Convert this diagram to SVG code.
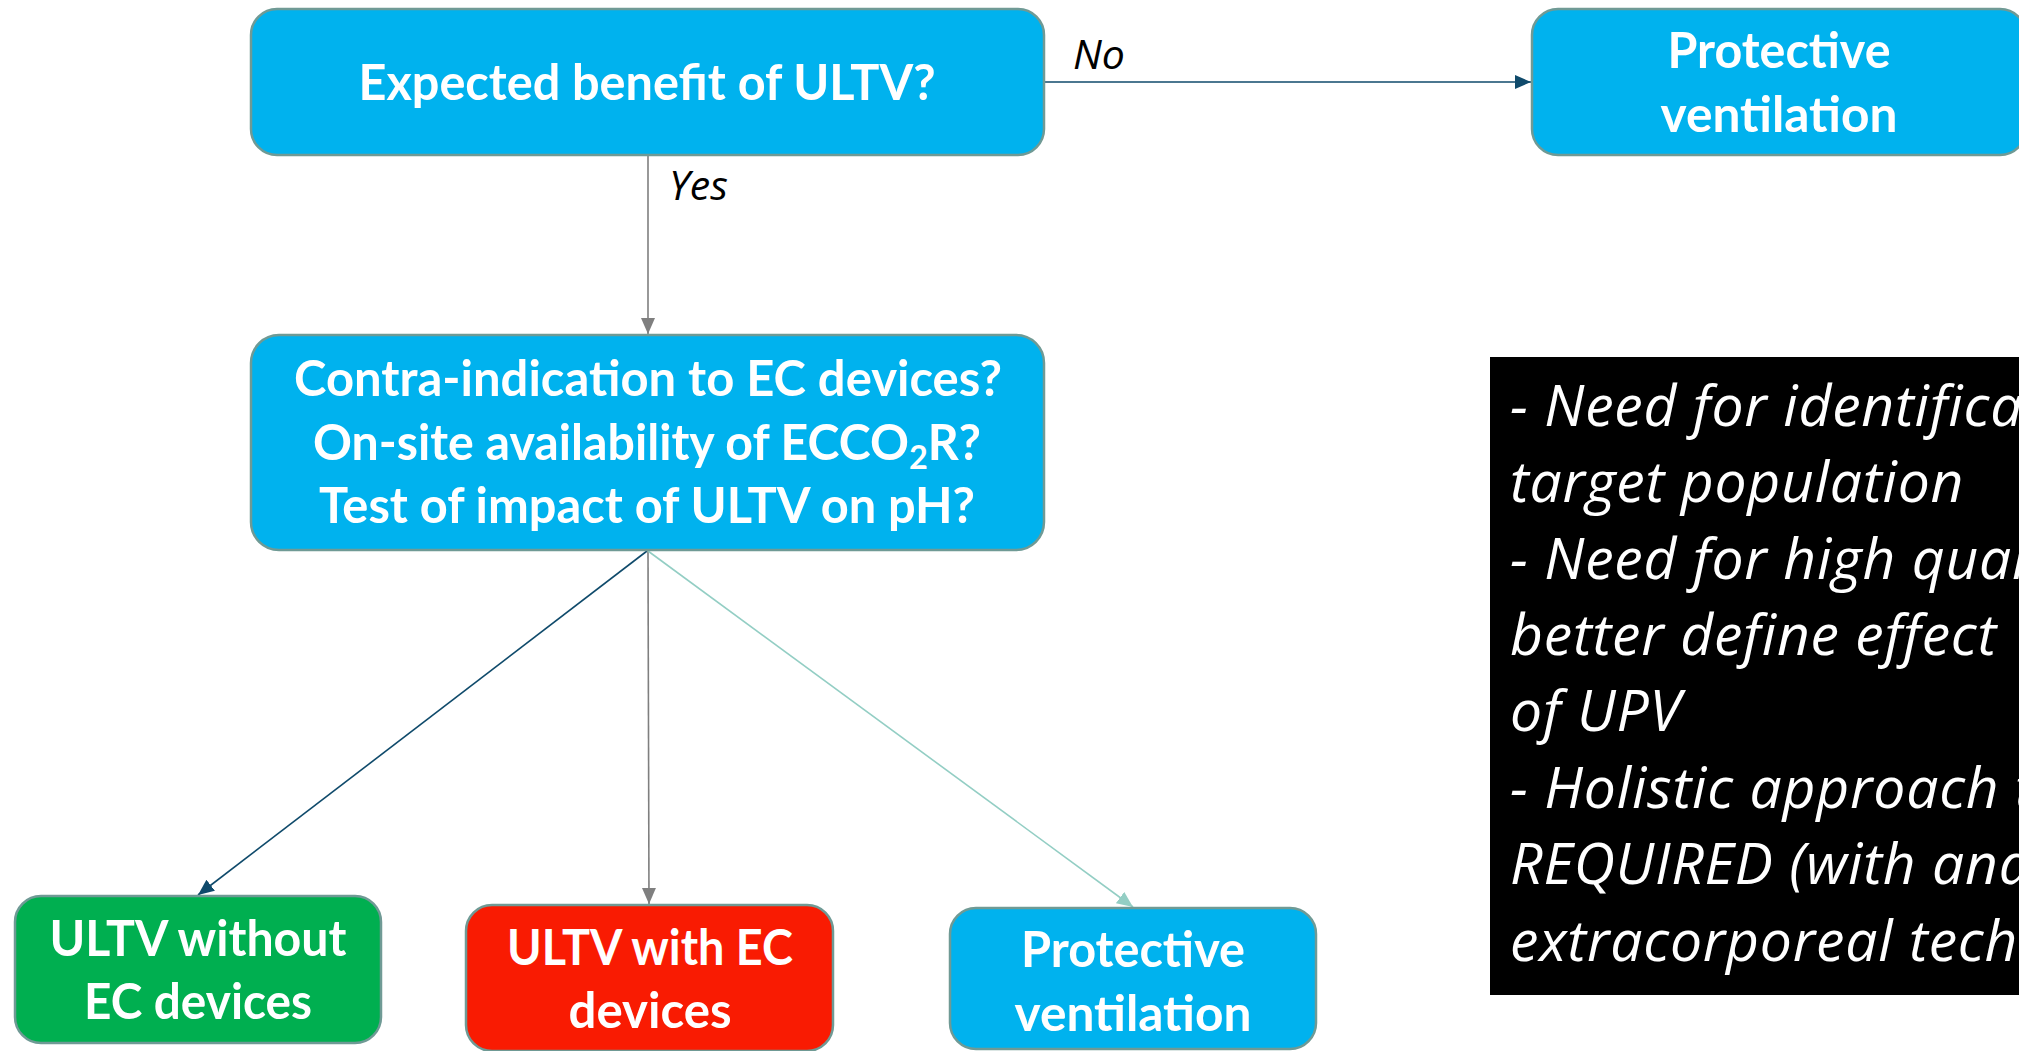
<svg xmlns="http://www.w3.org/2000/svg" width="2019" height="1051" viewBox="0 0 2019 1051">
<style>
.box{stroke:#6F9A95;stroke-width:2.5}
.blue{fill:#00B2EE}
.green{fill:#00AF50}
.red{fill:#F91B02}
.nt{font-family:Lato,"Open Sans","Liberation Sans",sans-serif;font-weight:bold;font-size:49px;fill:#FFFFFF;text-anchor:middle}
.lbl{font-family:"Open Sans","Liberation Sans",sans-serif;font-style:italic;font-size:41px;fill:#000000}
.note{font-family:"Open Sans","Liberation Sans",sans-serif;font-style:italic;font-size:57px;letter-spacing:0.8px;fill:#FFFFFF}
.c{fill:none;stroke-width:1.6}
</style>
<defs>
<marker id="aNavy" markerUnits="userSpaceOnUse" markerWidth="18" markerHeight="14" refX="16" refY="7" orient="auto"><path d="M0,0 L16,7 L0,14 Z" fill="#0F4A6B"/></marker>
<marker id="aGrey" markerUnits="userSpaceOnUse" markerWidth="18" markerHeight="14" refX="16" refY="7" orient="auto"><path d="M0,0 L16,7 L0,14 Z" fill="#7F7F7F"/></marker>
<marker id="aTeal" markerUnits="userSpaceOnUse" markerWidth="18" markerHeight="14" refX="16" refY="7" orient="auto"><path d="M0,0 L16,7 L0,14 Z" fill="#93CEC4"/></marker>
</defs>
<rect width="2019" height="1051" fill="#FFFFFF"/>

<g id="connectors">
<line class="c" x1="1045" y1="82" x2="1531" y2="82" stroke="#0F4A6B" marker-end="url(#aNavy)"/>
<line class="c" x1="648" y1="156" x2="648" y2="334" stroke="#7F7F7F" marker-end="url(#aGrey)"/>
<line class="c" x1="647" y1="551" x2="198" y2="895" stroke="#0F4A6B" marker-end="url(#aNavy)"/>
<line class="c" x1="648" y1="551" x2="649" y2="904" stroke="#7F7F7F" marker-end="url(#aGrey)"/>
<line class="c" x1="648" y1="551" x2="1133" y2="907" stroke="#93CEC4" marker-end="url(#aTeal)"/>
<text class="lbl" x="1073" y="69">No</text>
<text class="lbl" x="669" y="200">Yes</text>
</g>

<g id="node-benefit">
<rect class="box blue" x="251" y="9" width="793" height="146" rx="26"/>
<text class="nt" x="647" y="100" textLength="577" lengthAdjust="spacingAndGlyphs">Expected benefit of ULTV?</text>
</g>

<g id="node-protective-top">
<rect class="box blue" x="1532" y="9" width="494" height="146" rx="26"/>
<text class="nt" x="1779" y="68" textLength="223" lengthAdjust="spacingAndGlyphs">Protective</text>
<text class="nt" x="1779" y="132" textLength="237" lengthAdjust="spacingAndGlyphs">ventilation</text>
</g>

<g id="node-contra">
<rect class="box blue" x="251" y="335" width="793" height="215" rx="28"/>
<text class="nt" x="648" y="396" textLength="708" lengthAdjust="spacingAndGlyphs">Contra-indication to EC devices?</text>
<text class="nt" x="647" y="460" textLength="668" lengthAdjust="spacingAndGlyphs">On-site availability of ECCO<tspan font-size="33" dy="9">2</tspan><tspan dy="-9">R?</tspan></text>
<text class="nt" x="647" y="523" textLength="656" lengthAdjust="spacingAndGlyphs">Test of impact of ULTV on pH?</text>
</g>

<g id="node-note">
<rect x="1490" y="357" width="540" height="638" fill="#000000"/>
<text class="note" x="1510" y="426">- Need for identifica</text>
<text class="note" x="1510" y="502">target population</text>
<text class="note" x="1510" y="579">- Need for high quali</text>
<text class="note" x="1510" y="655">better define effect</text>
<text class="note" x="1510" y="731">of UPV</text>
<text class="note" x="1510" y="808">- Holistic approach t</text>
<text class="note" x="1510" y="884">REQUIRED (with and</text>
<text class="note" x="1510" y="961">extracorporeal techn</text>
</g>

<g id="node-ultv-without">
<rect class="box green" x="15" y="896" width="366" height="147" rx="26"/>
<text class="nt" x="198" y="956" textLength="297" lengthAdjust="spacingAndGlyphs">ULTV without</text>
<text class="nt" x="198" y="1019" textLength="228" lengthAdjust="spacingAndGlyphs">EC devices</text>
</g>

<g id="node-ultv-with">
<rect class="box red" x="466" y="905" width="367" height="146" rx="26"/>
<text class="nt" x="650" y="965" textLength="286" lengthAdjust="spacingAndGlyphs">ULTV with EC</text>
<text class="nt" x="650" y="1028" textLength="163" lengthAdjust="spacingAndGlyphs">devices</text>
</g>

<g id="node-protective-bottom">
<rect class="box blue" x="950" y="908" width="366" height="141" rx="26"/>
<text class="nt" x="1133" y="967" textLength="224" lengthAdjust="spacingAndGlyphs">Protective</text>
<text class="nt" x="1133" y="1031" textLength="237" lengthAdjust="spacingAndGlyphs">ventilation</text>
</g>
</svg>
